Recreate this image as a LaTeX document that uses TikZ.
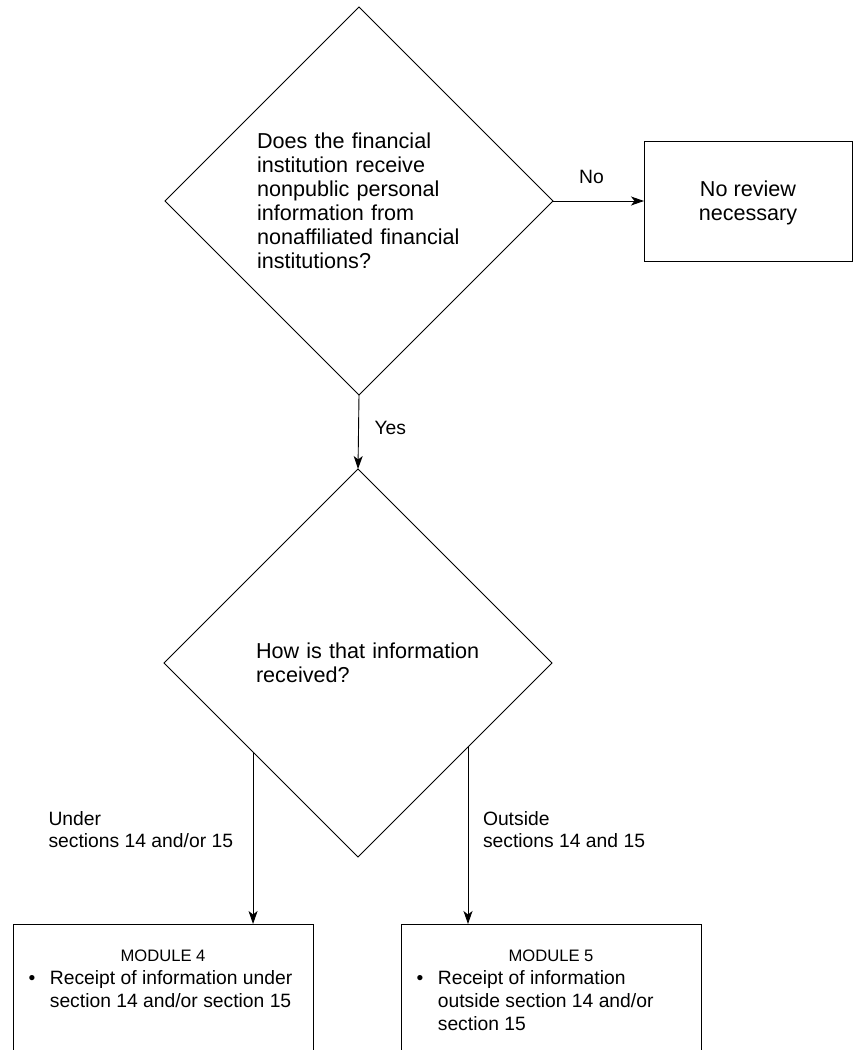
\documentclass[tikz,border=0pt]{standalone}
\usepackage{fontspec}
\setmainfont{Liberation Sans}
\usetikzlibrary{shapes.geometric,arrows.meta,calc,positioning}

\begin{document}
\begin{tikzpicture}[x=1pt,y=-1pt,
  every node/.style={inner sep=0pt, outer sep=0pt},
  decision/.style={draw, diamond, aspect=1, minimum width=388pt, minimum height=388pt,
    line width=0.9pt, text width=204pt, align=left,
    font=\fontsize{21.6}{24}\selectfont},
  endbox/.style={draw, rectangle, line width=0.9pt, minimum width=208pt, minimum height=120pt,
    align=center, text depth=0pt, font=\fontsize{21.6}{24}\selectfont},
  modbox/.style={draw, rectangle, line width=0.9pt, minimum width=300pt, minimum height=160pt,
    anchor=north west},
  modtitle/.style={anchor=base, font=\fontsize{16.6}{20}\selectfont},
  modtext/.style={anchor=base west, font=\fontsize{19.3}{23}\selectfont},
  lbl/.style={align=left, font=\fontsize{19.3}{22}\selectfont},
  flow/.style={line width=0.9pt, -{Stealth[length=13pt, width=9pt, inset=3.5pt]}}
]
\useasboundingbox (0,0) rectangle (853,1050);
\clip (0,0) rectangle (853,1050);

% decisions
\node[decision] (q1) at (359,201) {Does the financial\\institution receive\\nonpublic personal\\information from\\nonaffiliated financial\\institutions?};
\node[decision] (q2) at (358,663) {\mbox{How is that information}\\received?};

% outcomes
\node[endbox] (noreview) at (748,201) {No review\\necessary};
\node[modbox] (m4) at (13,924) {};
\node[modbox] (m5) at (401,924) {};

% module contents
\node[modtitle] (m4title) at ($(m4.north)+(0,37)$) {MODULE 4};
\node[modtext] (m4list) at ($(m4.north west)+(15.5,60)$)
  {\begin{tabular}[t]{@{}l@{\hspace{14.6pt}}l@{}}
   \textbullet & Receipt of information under\\
               & section 14 and/or section 15
   \end{tabular}};
\node[modtitle] (m5title) at ($(m5.north)+(0,37)$) {MODULE 5};
\node[modtext] (m5list) at ($(m5.north west)+(15.5,60)$)
  {\begin{tabular}[t]{@{}l@{\hspace{14.6pt}}l@{}}
   \textbullet & Receipt of information\\
               & outside section 14 and/or\\
               & section 15
   \end{tabular}};

% branch start points on the lower edges of the second decision
\coordinate (b4) at ($(q2.west)!0.459!(q2.south)$);
\coordinate (b5) at ($(q2.east)!0.433!(q2.south)$);

% connectors
\draw[flow] (q1.east) -- node[lbl, above=17pt, xshift=-7pt] {No} (noreview.west);
\draw[flow] (q1.south) -- node[lbl, right=16pt, pos=0.446] {Yes} (q2.north);
\draw[flow] (b4) -- node[lbl, left=20pt, pos=0.45] {Under\\sections 14 and/or 15} (b4 |- m4.north);
\draw[flow] (b5) -- node[lbl, right=15pt, pos=0.469] {Outside\\sections 14 and 15} (b5 |- m5.north);
\end{tikzpicture}
\end{document}
